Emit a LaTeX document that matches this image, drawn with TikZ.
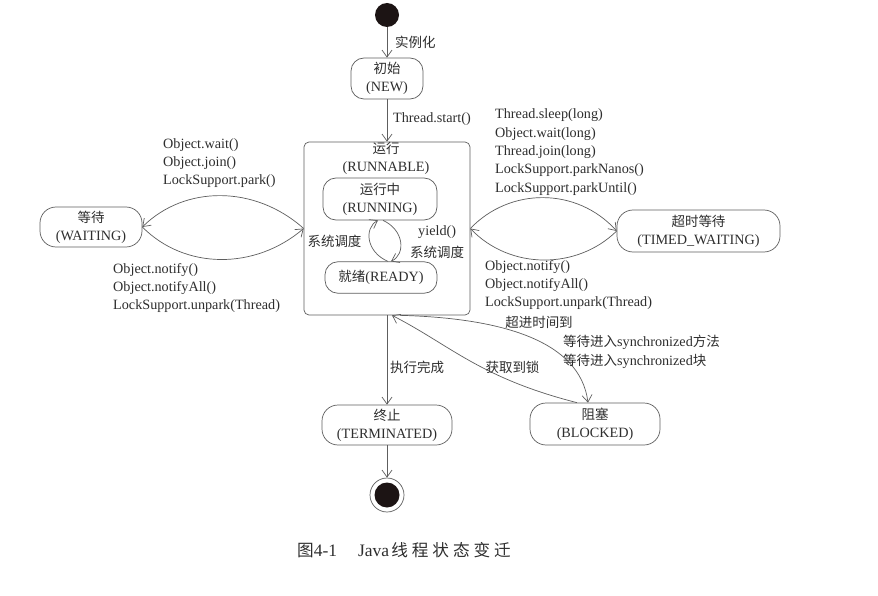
\documentclass[tikz,border=0pt]{standalone}
\usepackage{fontspec}
\setmainfont{Liberation Serif}
\newfontfamily\cjk{Noto Sans CJK SC}[Scale=0.95]
\usetikzlibrary{arrows.meta}

\definecolor{linegray}{HTML}{5E5E5E}
\definecolor{inkgray}{HTML}{2E2E2E}
\definecolor{dotfill}{HTML}{1C1414}

% one caption glyph in a fixed-width cell
\newcommand{\capchar}[1]{\makebox[20.6pt][l]{#1}}

\tikzset{
  state/.style={draw=linegray, line width=0.7pt, rounded corners=13pt, align=center,
    inner sep=0pt, text=inkgray, font=\fontsize{14.2}{18}\selectfont},
  edge/.style={draw=linegray, line width=0.7pt, -{Straight Barb[length=7pt,width=10pt]}},
  lbl/.style={inner sep=0pt, align=left, text=inkgray, font=\fontsize{14.2}{18.4}\selectfont},
}

\begin{document}
\begin{tikzpicture}[x=1pt,y=-1pt]
\useasboundingbox (0,0) rectangle (878,596);
\fill[white] (0,0) rectangle (878,596);

% initial and final pseudo-states
\node[circle, fill=dotfill, minimum size=24pt, inner sep=0pt] (start) at (387,15) {};
\node[circle, draw=linegray, line width=0.7pt, minimum size=34pt, inner sep=0pt] (end) at (387,495) {};
\fill[dotfill] (end.center) circle (12.5pt);

% states
\node[state, minimum width=72pt, minimum height=41pt] (new) at (387,78.5) {{\cjk 初始}\\(NEW)};
\node[draw=linegray, line width=0.7pt, rounded corners=5pt, minimum width=166pt,
      minimum height=173pt, inner sep=0pt] (runnable) at (387,228.5) {};
\node[lbl, align=center] (runnablelbl) at (386,158.5) {{\cjk 运行}\\(RUNNABLE)};
\node[state, minimum width=114pt, minimum height=42pt] (running) at (380,199) {{\cjk 运行中}\\(RUNNING)};
\node[state, minimum width=112pt, minimum height=31.5pt] (ready) at (381,277.5) {{\cjk 就绪}(READY)};
\node[state, rounded corners=16pt, minimum width=102pt, minimum height=40pt] (waiting) at (91,227) {{\cjk 等待}\\(WAITING)};
\node[state, rounded corners=16pt, minimum width=163pt, minimum height=42pt] (timed) at (698.5,231) {{\cjk 超时等待}\\(TIMED\_WAITING)};
\node[state, rounded corners=16pt, minimum width=130pt, minimum height=40pt] (terminated) at (387,425) {{\cjk 终止}\\(TERMINATED)};
\node[state, rounded corners=16pt, minimum width=130pt, minimum height=42pt] (blocked) at (595,424) {{\cjk 阻塞}\\(BLOCKED)};

% transitions
\draw[edge] (start) -- (new);
\node[lbl, anchor=west] (l-inst) at (395,42) {\cjk 实例化};
\draw[edge] (new) -- (runnable);
\node[lbl, anchor=west] (l-start) at (393,119) {Thread.start()};

% RUNNABLE <-> WAITING
\draw[edge] (runnable.west) .. controls (255,185) and (185,185) .. (waiting.east);
\draw[edge] (waiting.east) .. controls (185,270) and (255,270) .. (runnable.west);
\node[lbl, anchor=west] (l-wait) at (163,163) {Object.wait()\\Object.join()\\LockSupport.park()};
\node[lbl, anchor=west] (l-notify) at (113,288) {Object.notify()\\Object.notifyAll()\\LockSupport.unpark(Thread)};

% RUNNABLE <-> TIMED_WAITING
\draw[edge] (runnable.east) .. controls (510,187) and (577,187) .. (timed.west);
\draw[edge] (timed.west) .. controls (577,270) and (510,270) .. (runnable.east);
\node[lbl, anchor=west] (l-sleep) at (495,152) {Thread.sleep(long)\\Object.wait(long)\\Thread.join(long)\\LockSupport.parkNanos()\\LockSupport.parkUntil()};
\node[lbl, anchor=west] (l-tnotify) at (485,285) {Object.notify()\\Object.notifyAll()\\LockSupport.unpark(Thread)};

% RUNNING <-> READY
\draw[edge] ([xshift=7pt]ready.north) .. controls (366,252) and (364,228) .. ([xshift=-2pt]running.south);
\draw[edge] ([xshift=3pt]running.south) .. controls (404,230) and (406,254) .. ([xshift=10pt]ready.north);
\node[lbl] (l-sched1) at (334.5,241) {\cjk 系统调度};
\node[lbl, anchor=west] (l-yield) at (418,232) {yield()};
\node[lbl, anchor=west] (l-sched2) at (410,252) {\cjk 系统调度};

% RUNNABLE -> TERMINATED
\draw[edge] (runnable.south) -- (terminated.north);
\node[lbl, anchor=west] (l-done) at (390,367) {\cjk 执行完成};
\draw[edge] (terminated) -- (end);

% RUNNABLE <-> BLOCKED
\draw[edge] ([xshift=13pt]runnable.south) .. controls (500,318) and (580,340) .. ([xshift=-7pt]blocked.north);
\draw[edge] ([xshift=-18pt]blocked.north) .. controls (480,378) and (450,345) .. ([xshift=5pt]runnable.south);
\node[lbl] (l-lock) at (512.5,367) {\cjk 获取到锁};
\node[lbl] (l-timeout) at (539,322) {\cjk 超进时间到};
\node[lbl, anchor=west] (l-sync1) at (563,342) {{\cjk 等待进入}synchronized{\cjk 方法}};
\node[lbl, anchor=west] (l-sync2) at (563,361) {{\cjk 等待进入}synchronized{\cjk 块}};

% caption
\node[inner sep=0pt, anchor=west, text=inkgray, font=\fontsize{17.5}{17.5}\selectfont] (caption) at (297,550)
  {{\cjk 图}4-1\hspace{21pt}Java\hspace{2pt}{\cjk\capchar{线}\capchar{程}\capchar{状}\capchar{态}\capchar{变}迁}};
\end{tikzpicture}
\end{document}
